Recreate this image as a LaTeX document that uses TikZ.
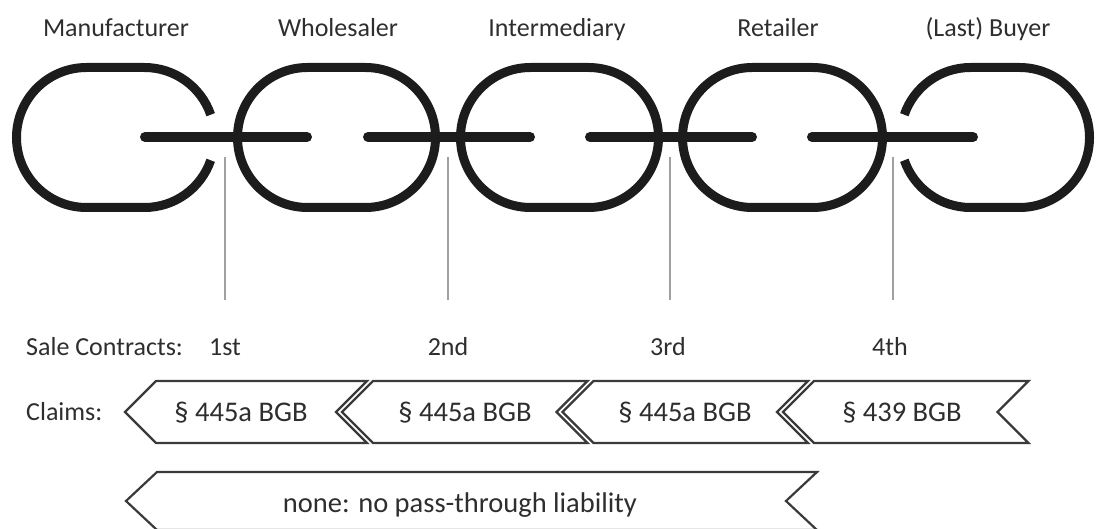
\documentclass[tikz,border=0pt]{standalone}
\usepackage{fontspec}
\setmainfont{Carlito}
\definecolor{linkcol}{HTML}{1C1C1C}
\definecolor{chevcol}{HTML}{3A3A3A}
\definecolor{textcol}{HTML}{2E2E2E}
\definecolor{tickcol}{HTML}{A0A0A0}
\begin{document}
\begin{tikzpicture}[x=1pt,y=1pt,
  chainlink/.style={line width=9pt, draw=linkcol},
  chainbar/.style={line width=10pt, draw=linkcol, line cap=round},
  tickline/.style={line width=1.6pt, draw=tickcol},
  chev/.style={line width=2.2pt, draw=chevcol, line join=miter, fill=white},
  lbl/.style={font=\fontsize{26}{30}\selectfont, text=textcol, inner sep=0pt},
  chevlbl/.style={font=\fontsize{28.5}{32}\selectfont, text=textcol, inner sep=0pt},
]
\useasboundingbox (0,0) rectangle (1097,528);
\clip (0,0) rectangle (1097,528);

% top labels
\node[lbl, anchor=base] (manu) at (116,491) {Manufacturer};
\node[lbl, anchor=base] (whole) at (338,491) {Wholesaler};
\node[lbl, anchor=base] (inter) at (557,491) {Intermediary};
\node[lbl, anchor=base] (retail) at (778,491) {Retailer};
\node[lbl, anchor=base] (buyer) at (988,491) {(Last) Buyer};

% chain links
% link 1 (open on the right)
\draw[chainlink] (144.5,390.5) ++(19:70) arc[start angle=19,end angle=90,radius=70]
  -- (86.5,460.5) arc[start angle=90,end angle=270,radius=70]
  -- (144.5,320.5) arc[start angle=-90,end angle=-19,radius=70];
% closed links
\draw[chainlink, rounded corners=70pt] (237.5,320.5) rectangle (435.5,460.5);
\draw[chainlink, rounded corners=70pt] (460.5,320.5) rectangle (658.5,460.5);
\draw[chainlink, rounded corners=70pt] (682.5,320.5) rectangle (882.5,460.5);
% link 5 (open on the left)
\draw[chainlink] (970.5,390.5) ++(161:70) arc[start angle=161,end angle=90,radius=70]
  -- (1019.5,460.5) arc[start angle=90,end angle=-90,radius=70]
  -- (970.5,320.5) arc[start angle=270,end angle=199,radius=70];
% side-on bars
\draw[chainbar] (145,391) -- (307,391);
\draw[chainbar] (368,391) -- (530,391);
\draw[chainbar] (590,391) -- (752,391);
\draw[chainbar] (812,391) -- (973,391);

% contract ticks
\coordinate (t1a) at (225,371); \coordinate (t1b) at (225,228);
\coordinate (t2a) at (448,371); \coordinate (t2b) at (448,228);
\coordinate (t3a) at (670,371); \coordinate (t3b) at (670,228);
\coordinate (t4a) at (893,371); \coordinate (t4b) at (893,228);
\draw[tickline] (t1a) -- (t1b);
\draw[tickline] (t2a) -- (t2b);
\draw[tickline] (t3a) -- (t3b);
\draw[tickline] (t4a) -- (t4b);

% sale contracts row
\node[lbl, anchor=base west] (sc) at (26,173) {Sale Contracts:};
\node[lbl, anchor=base] (c1) at (225,173) {1st};
\node[lbl, anchor=base] (c2) at (448,173) {2nd};
\node[lbl, anchor=base] (c3) at (668,173) {3rd};
\node[lbl, anchor=base] (c4) at (890,173) {4th};

% claims row
\node[lbl, anchor=base west] (cl) at (26,108) {Claims:};
\draw[chev] (125,116) -- (156,147) -- (367,147) -- (336,116) -- (367,85) -- (156,85) -- cycle;
\draw[chev] (342,116) -- (373,147) -- (587.5,147) -- (556.5,116) -- (587.5,85) -- (373,85) -- cycle;
\draw[chev] (562.5,116) -- (593.5,147) -- (808,147) -- (777,116) -- (808,85) -- (593.5,85) -- cycle;
\draw[chev] (783,116) -- (814,147) -- (1028.5,147) -- (997.5,116) -- (1028.5,85) -- (814,85) -- cycle;
\node[chevlbl, anchor=base] (k1) at (241,107) {§ 445a BGB};
\node[chevlbl, anchor=base] (k2) at (465,107) {§ 445a BGB};
\node[chevlbl, anchor=base] (k3) at (685,107) {§ 445a BGB};
\node[chevlbl, anchor=base] (k4) at (902,107) {§ 439 BGB};

% bottom chevron
\draw[chev] (126,27) -- (157,56) -- (817,56) -- (786,27) -- (817,-2) -- (157,-2) -- cycle;
\node[chevlbl, anchor=base] (none) at (460,16) {none: no pass-through liability};
\end{tikzpicture}
\end{document}
